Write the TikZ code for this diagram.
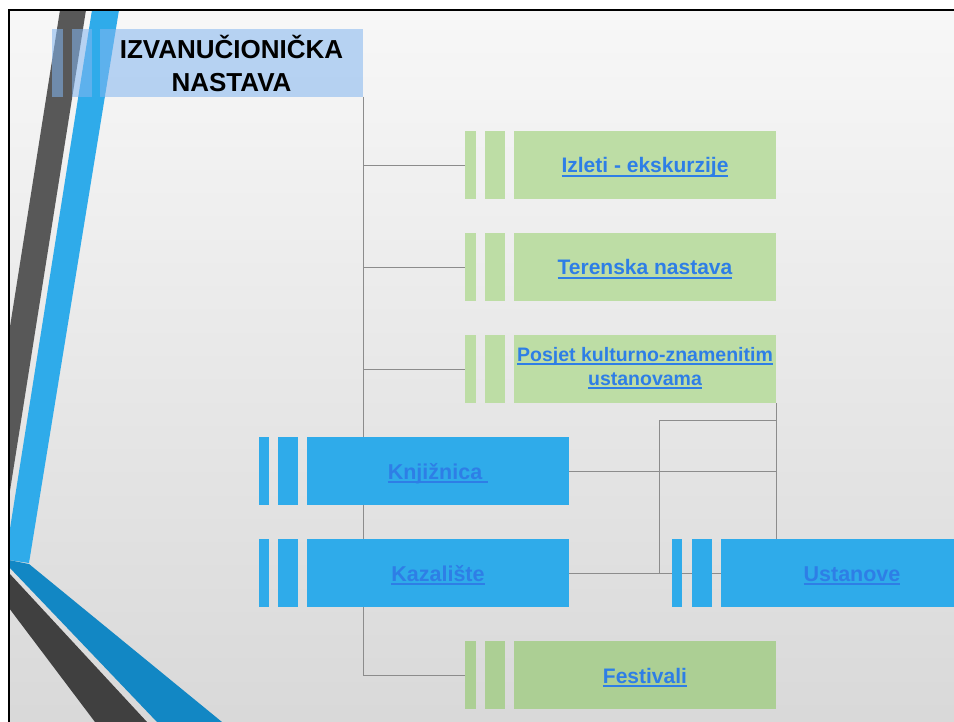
\documentclass[tikz,border=0pt]{standalone}
\usepackage{fontspec}
\setmainfont{Liberation Sans}
\usepackage{tikz}
\usetikzlibrary{positioning,calc,backgrounds}
\definecolor{SlideBlue}{RGB}{47,171,234}
\definecolor{SlideDark}{RGB}{88,88,88}
\definecolor{BandBlue}{RGB}{18,135,196}
\definecolor{BandDark}{RGB}{64,64,64}
\definecolor{TitleBlue}{RGB}{131,182,240}
\definecolor{BoxGreen}{RGB}{189,221,165}
\definecolor{BoxGreenDark}{RGB}{172,207,148}
\definecolor{LinkBlue}{RGB}{46,126,230}

% podcrtani tekst poveznice
\newsavebox\linkbox
\newcommand{\poveznica}[1]{\sbox\linkbox{#1}\rlap{\rule[-3.8pt]{\wd\linkbox}{2pt}}\usebox\linkbox}

\begin{document}
\begin{tikzpicture}[x=1pt,y=-1pt,
                % Stil za uske trake lijevo od kutije
                traka/.style={
                    rectangle, inner sep=0pt, outer sep=0pt,
                    minimum width=11pt, minimum height=68pt,
                    anchor=north west
                },
                % Stil za glavnu kutiju
                kutija/.style={
                    traka, minimum width=262pt,
                    font=\fontsize{21}{25}\selectfont\bfseries,
                    text=LinkBlue, align=center
                },
                % Jedan red teksta u kutiji
                jedanred/.style={text height=18pt, text depth=2pt},
                % Stil za naslov
                naslovkutija/.style={
                    traka, minimum width=263pt, fill=TitleBlue, fill opacity=0.55,
                    text opacity=1, text=black, align=center,
                    font=\fontsize{26}{33}\selectfont\bfseries
                },
                % Stil za linije veza
                veza/.style={draw=black!45, line width=0.8pt}
            ]
                \useasboundingbox (0,0) rectangle (954,722);

                % --- 1. Pozadina slajda i ukrasne trake ---
                \begin{scope}[on background layer]
                \fill[white] (0,0) rectangle (954,722);
                \shade[top color=black!3, bottom color=black!15] (9,10) rectangle (954,722);
                \fill[SlideDark] (60,10) -- (86,10) -- (9,497) -- (9,333) -- cycle;
                \fill[SlideBlue] (92,10) -- (119,10) -- (29,563) -- (9,560) -- (9,535) -- cycle;
                \fill[BandBlue] (9,560) -- (29,564) -- (222,722) -- (157,722) -- (9,567) -- cycle;
                \fill[BandDark] (9,573) -- (147,722) -- (95,722) -- (9,608) -- cycle;
                \draw[black, line width=2pt] (8.5,722) -- (8.5,10) -- (954,10);
                \end{scope}

                % --- 2. Naslov ---
                \node[traka, fill=TitleBlue, fill opacity=0.55] (naslov-a) at (52,29) {};
                \node[traka, fill=TitleBlue, fill opacity=0.55, minimum width=20pt] (naslov-b) at (72,29) {};
                \node[naslovkutija] (naslov) at (100,29) {IZVANUČIONIČKA\\NASTAVA};

                % --- 3. Zelene kutije ---
                \foreach \ime/\y/\boja/\tekst in {izleti/131/BoxGreen/{Izleti - ekskurzije},
                        terenska/233/BoxGreen/{Terenska nastava}, festivali/641/BoxGreenDark/{Festivali}} {
                    \node[traka, fill=\boja] (\ime-a) at (465,\y) {};
                    \node[traka, fill=\boja, minimum width=20pt] (\ime-b) at (485,\y) {};
                    \node[kutija, jedanred, fill=\boja] (\ime) at (514,\y) {\poveznica{\tekst}};
                }
                \node[traka, fill=BoxGreen] (posjet-a) at (465,335) {};
                \node[traka, fill=BoxGreen, minimum width=20pt] (posjet-b) at (485,335) {};
                \node[kutija, fill=BoxGreen, font=\fontsize{19.5}{24}\selectfont\bfseries] (posjet) at (514,335)
                    {\poveznica{Posjet kulturno-znamenitim}\\\poveznica{ustanovama}\rule[-5pt]{0pt}{5pt}};

                % --- 4. Plave kutije ---
                \node[traka, fill=SlideBlue, minimum width=10pt] (knjiznica-a) at (259,437) {};
                \node[traka, fill=SlideBlue, minimum width=20pt] (knjiznica-b) at (278,437) {};
                \node[kutija, jedanred, fill=SlideBlue, font=\fontsize{21.5}{26}\selectfont\bfseries] (knjiznica) at (307,437) {\poveznica{Knjižnica\ }};

                \node[traka, fill=SlideBlue, minimum width=10pt] (kazaliste-a) at (259,539) {};
                \node[traka, fill=SlideBlue, minimum width=20pt] (kazaliste-b) at (278,539) {};
                \node[kutija, jedanred, fill=SlideBlue, font=\fontsize{21.5}{26}\selectfont\bfseries] (kazaliste) at (307,539) {\poveznica{Kazalište}};

                \node[traka, fill=SlideBlue, minimum width=10pt] (ustanove-a) at (672,539) {};
                \node[traka, fill=SlideBlue, minimum width=20pt] (ustanove-b) at (692,539) {};
                \node[kutija, jedanred, fill=SlideBlue, font=\fontsize{21.5}{26}\selectfont\bfseries] (ustanove) at (721,539) {\poveznica{Ustanove}};

                % --- 5. Veze ---
                \coordinate (spoj) at (659,420);
                \begin{scope}[on background layer]
                \draw[veza] (naslov.south east) |- (festivali-a.west);
                \foreach \ime in {izleti,terenska,posjet}
                    \draw[veza] (naslov.south east |- \ime-a.west) -- (\ime-a.west);
                \draw[veza] (posjet.south east) |- (knjiznica.east);
                \draw[veza] (posjet.south east |- knjiznica.east) -- (posjet.south east |- ustanove.north);
                \draw[veza] (kazaliste.east) -- (ustanove.west);
                \draw[veza] (spoj) -- (spoj -| posjet.south east);
                \draw[veza] (spoj) -- (spoj |- kazaliste.east);
                \end{scope}

            \end{tikzpicture}
\end{document}
